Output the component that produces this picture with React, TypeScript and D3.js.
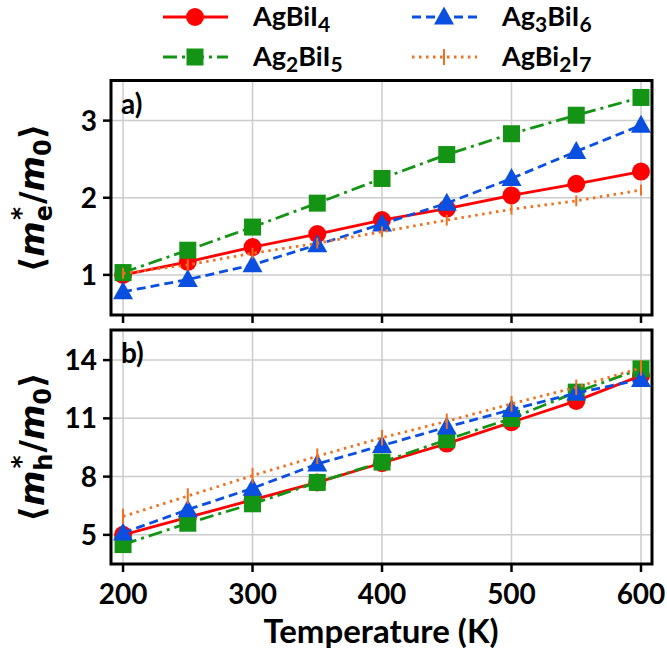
import React from "react";
import * as d3 from "d3";

const temps = [200, 250, 300, 350, 400, 450, 500, 550, 600];

// Panel a: electron effective mass
const eAgBiI4 = [1.0, 1.17, 1.36, 1.53, 1.71, 1.86, 2.03, 2.18, 2.34];
const eAg2BiI5 = [1.03, 1.32, 1.62, 1.93, 2.25, 2.56, 2.83, 3.07, 3.3];
const eAg3BiI6 = [0.78, 0.94, 1.13, 1.39, 1.66, 1.93, 2.25, 2.6, 2.94];
const eAgBi2I7 = [1.02, 1.13, 1.28, 1.41, 1.56, 1.71, 1.85, 1.96, 2.1];
const eAgBi2I7Err = [0.07, 0.07, 0.07, 0.07, 0.07, 0.07, 0.07, 0.07, 0.07];

// Panel b: hole effective mass
const hAgBiI4 = [5.0, 5.9, 6.8, 7.7, 8.7, 9.7, 10.8, 11.9, 13.2];
const hAg2BiI5 = [4.5, 5.6, 6.6, 7.7, 8.75, 9.9, 11.0, 12.35, 13.55];
const hAg3BiI6 = [5.1, 6.3, 7.4, 8.65, 9.6, 10.55, 11.45, 12.3, 13.0];
const hAgBi2I7 = [5.95, 7.0, 8.05, 9.05, 10.0, 10.85, 11.75, 12.6, 13.6];
const hAgBi2I7Err = [0.4, 0.4, 0.4, 0.4, 0.4, 0.4, 0.4, 0.4, 0.4];

const xTicks = [200, 300, 400, 500, 600];
const yTicksA = [1, 2, 3];
const yTicksB = [5, 8, 11, 14];

const FONT = "Lato, 'Open Sans', sans-serif";
const RED = "#ff0000";
const GREEN = "#149414";
const BLUE = "#0a4fe0";
const ORANGE = "#f07020";

const x = d3.scaleLinear().domain([190.7, 608.5]).range([111, 652]);
const yA = d3.scaleLinear().domain([0.48, 3.52]).range([315, 80.5]);
const yB = d3.scaleLinear().domain([3.5, 15.55]).range([564, 330]);

type Scale = d3.ScaleLinear<number, number>;

function Marker({ kind, cx, cy, color }: { kind: string; cx: number; cy: number; color: string }) {
  if (kind === "circle") return <circle cx={cx} cy={cy} r={9} fill={color} />;
  if (kind === "square") return <rect x={cx - 8.5} y={cy - 8.5} width={17} height={17} fill={color} />;
  if (kind === "triangle") {
    const p = d3.path();
    p.moveTo(cx, cy - 10.5);
    p.lineTo(cx + 10, cy + 7.5);
    p.lineTo(cx - 10, cy + 7.5);
    p.closePath();
    return <path d={p.toString()} fill={color} />;
  }
  return null;
}

function Series({ vals, y, color, dash, kind, err }: { vals: number[]; y: Scale; color: string; dash?: string; kind: string; err?: number[] }) {
  const line = d3.line<number>().x((_, i) => x(temps[i])).y((v) => y(v));
  return (
    <g>
      <path d={line(vals) || ""} fill="none" stroke={color} strokeWidth={2.8} strokeDasharray={dash} />
      {err &&
        vals.map((v, i) => (
          <line key={"e" + i} x1={x(temps[i])} x2={x(temps[i])} y1={y(v - err[i])} y2={y(v + err[i])} stroke={color} strokeWidth={2} />
        ))}
      {vals.map((v, i) => (
        <Marker key={i} kind={kind} cx={x(temps[i])} cy={y(v)} color={color} />
      ))}
    </g>
  );
}

function Panel({ y, ticks, top, bottom, label, series }: { y: Scale; ticks: number[]; top: number; bottom: number; label: string; series: React.ReactNode }) {
  const left = 111;
  const right = 652;
  return (
    <g>
      <defs>
        <clipPath id={"clip" + label}>
          <rect x={left} y={top} width={right - left} height={bottom - top} />
        </clipPath>
      </defs>
      {xTicks.map((t) => (
        <line key={"gx" + t} x1={x(t)} x2={x(t)} y1={top} y2={bottom} stroke="#cccccc" strokeWidth={1.5} />
      ))}
      {ticks.map((t) => (
        <line key={"gy" + t} x1={left} x2={right} y1={y(t)} y2={y(t)} stroke="#cccccc" strokeWidth={1.5} />
      ))}
      <g clipPath={`url(#clip${label})`}>{series}</g>
      <text x={121} y={top + 33} fontFamily={FONT} fontWeight="bold" fontSize={28}>
        {label}
      </text>
      <rect x={left} y={top} width={right - left} height={bottom - top} fill="none" stroke="#000" strokeWidth={3} />
      {ticks.map((t) => (
        <g key={"ty" + t}>
          <line x1={left - 8} x2={left} y1={y(t)} y2={y(t)} stroke="#000" strokeWidth={2.5} />
          <text x={97} y={y(t)} dy="0.36em" textAnchor="end" fontFamily={FONT} fontWeight="bold" fontSize={28}>
            {t}
          </text>
        </g>
      ))}
      {xTicks.map((t) => (
        <line key={"tx" + t} x1={x(t)} x2={x(t)} y1={bottom} y2={bottom + 8} stroke="#000" strokeWidth={2.5} />
      ))}
    </g>
  );
}

function YLabel({ cx, cy, sub }: { cx: number; cy: number; sub: string }) {
  return (
    <text transform={`translate(${cx},${cy}) rotate(-90)`} textAnchor="middle" fontFamily="'DejaVu Sans', sans-serif" fontWeight="bold" fontSize={34}>
      {"\u27E8"}
      <tspan fontStyle="italic">m</tspan>
      <tspan dy={8} fontSize={24}>{sub}</tspan>
      <tspan dx={-15} dy={-23} fontSize={25}>*</tspan>
      <tspan dx={3} dy={15} fontStyle="normal">/</tspan>
      <tspan fontStyle="italic">m</tspan>
      <tspan dy={7} fontSize={24} fontStyle="normal">0</tspan>
      <tspan dy={-7}>{"\u27E9"}</tspan>
    </text>
  );
}

function LegendItem({ x0, y0, color, dash, kind, name, sub, name2, sub2 }: { x0: number; y0: number; color: string; dash?: string; kind: string; name: string; sub: string; name2?: string; sub2?: string }) {
  return (
    <g>
      <line x1={x0} x2={x0 + 65} y1={y0} y2={y0} stroke={color} strokeWidth={2.8} strokeDasharray={dash} />
      {kind === "err" ? (
        <line x1={x0 + 32} x2={x0 + 32} y1={y0 - 8} y2={y0 + 8} stroke={color} strokeWidth={2} />
      ) : (
        <Marker kind={kind} cx={x0 + 32} cy={y0} color={color} />
      )}
      <text x={x0 + 90} y={y0 + 9} fontFamily={FONT} fontWeight="bold" fontSize={27}>
        {name}
        <tspan dy={6} fontSize={21}>{sub}</tspan>
        {name2 && <tspan dy={-6} fontSize={27}>{name2}</tspan>}
        {sub2 && <tspan dy={6} fontSize={21}>{sub2}</tspan>}
      </text>
    </g>
  );
}

export default function App() {
  return (
    <svg width={667} height={653} style={{ position: "absolute", left: 0, top: 0 }}>
      <rect width={667} height={653} fill="#fff" />
      <LegendItem x0={163} y0={17} color={RED} kind="circle" name="AgBiI" sub="4" />
      <LegendItem x0={412} y0={17} color={BLUE} dash="9,5" kind="triangle" name="Ag" sub="3" name2="BiI" sub2="6" />
      <LegendItem x0={163} y0={57} color={GREEN} dash="14,5,3,5" kind="square" name="Ag" sub="2" name2="BiI" sub2="5" />
      <LegendItem x0={412} y0={57} color={ORANGE} dash="2.5,4.5" kind="err" name="AgBi" sub="2" name2="I" sub2="7" />

      <Panel
        y={yA}
        ticks={yTicksA}
        top={80.5}
        bottom={315}
        label="a)"
        series={
          <>
            <Series vals={eAgBiI4} y={yA} color={RED} kind="circle" />
            <Series vals={eAg2BiI5} y={yA} color={GREEN} dash="14,5,3,5" kind="square" />
            <Series vals={eAg3BiI6} y={yA} color={BLUE} dash="9,5" kind="triangle" />
            <Series vals={eAgBi2I7} y={yA} color={ORANGE} dash="2.5,4.5" kind="none" err={eAgBi2I7Err} />
          </>
        }
      />
      <Panel
        y={yB}
        ticks={yTicksB}
        top={330}
        bottom={564}
        label="b)"
        series={
          <>
            <Series vals={hAgBiI4} y={yB} color={RED} kind="circle" />
            <Series vals={hAg2BiI5} y={yB} color={GREEN} dash="14,5,3,5" kind="square" />
            <Series vals={hAg3BiI6} y={yB} color={BLUE} dash="9,5" kind="triangle" />
            <Series vals={hAgBi2I7} y={yB} color={ORANGE} dash="2.5,4.5" kind="none" err={hAgBi2I7Err} />
          </>
        }
      />
      {xTicks.map((t) => (
        <text key={"lx" + t} x={x(t)} y={604} textAnchor="middle" fontFamily={FONT} fontWeight="bold" fontSize={28}>
          {t}
        </text>
      ))}
      <text x={381} y={643} textAnchor="middle" fontFamily={FONT} fontWeight="bold" fontSize={33}>
        Temperature (K)
      </text>
      <YLabel cx={44} cy={198} sub="e" />
      <YLabel cx={44} cy={447} sub="h" />
    </svg>
  );
}
